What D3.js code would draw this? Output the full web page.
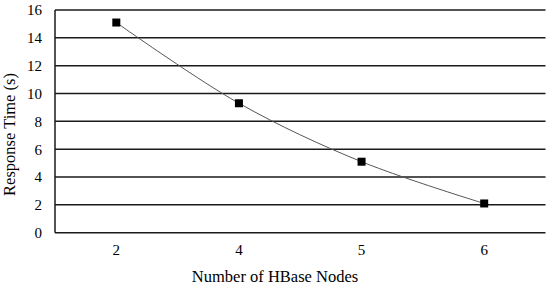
<html>
<head>
<meta charset="utf-8">
<style>
  body { margin: 0; background: #fff; }
  svg text { font-family: "Liberation Serif", "Times New Roman", Tinos, "DejaVu Serif", serif; fill: #000; }
</style>
</head>
<body>
<script src="https://cdn.jsdelivr.net/npm/d3@7"></script>
<script>
	// data
	var nodes = ["2", "4", "5", "6"];
	var responseTime = [15.1, 9.3, 5.1, 2.1];
	var yTicks = [0, 2, 4, 6, 8, 10, 12, 14, 16];

	var width = 550, height = 287;
	var margin = {top: 10, right: 4.5, bottom: 54.3, left: 55};
	var w = width - margin.left - margin.right;
	var h = height - margin.top - margin.bottom;
	var serif = '"Liberation Serif", "Times New Roman", Tinos, "DejaVu Serif", serif';

	var svg = d3.select("body").append("svg")
		.attr("width", width)
		.attr("height", height);

	var g = svg.append("g")
		.attr("transform", "translate(" + margin.left + "," + margin.top + ")");

	var x = d3.scaleBand().domain(nodes).range([0, w]);
	var y = d3.scaleLinear().domain([0, 16]).range([h, 0]);

	// horizontal grid lines
	g.selectAll(".grid")
		.data(yTicks)
		.enter().append("line")
		.attr("x1", 0).attr("x2", w)
		.attr("y1", function(d){ return y(d); })
		.attr("y2", function(d){ return y(d); })
		.attr("stroke", "#1a1a1a")
		.attr("stroke-width", 1.5);

	// left axis line
	g.append("line")
		.attr("x1", 0).attr("x2", 0)
		.attr("y1", 0).attr("y2", h)
		.attr("stroke", "#1a1a1a")
		.attr("stroke-width", 1.5);

	// y tick labels
	var yAxis = d3.axisLeft(y).tickValues(yTicks).tickSize(0).tickPadding(13);
	var ya = g.append("g").call(yAxis).attr("font-family", serif).attr("font-size", 15);
	ya.select(".domain").remove();

	// x tick labels
	var xAxis = d3.axisBottom(x).tickSize(0).tickPadding(12);
	var xa = g.append("g").attr("transform", "translate(0," + h + ")").call(xAxis)
		.attr("font-family", serif).attr("font-size", 15);
	xa.select(".domain").remove();

	// line
	var line = d3.line()
		.x(function(d, i){ return x(nodes[i]) + x.bandwidth() / 2; })
		.y(function(d){ return y(d); })
		.curve(d3.curveCatmullRom.alpha(0.5));

	g.append("path")
		.datum(responseTime)
		.attr("d", line)
		.attr("fill", "none")
		.attr("stroke", "#555")
		.attr("stroke-width", 1);

	// markers
	g.selectAll(".pt")
		.data(responseTime)
		.enter().append("rect")
		.attr("x", function(d, i){ return x(nodes[i]) + x.bandwidth() / 2 - 4; })
		.attr("y", function(d){ return y(d) - 4; })
		.attr("width", 8)
		.attr("height", 8)
		.attr("fill", "#000");

	// axis titles
	svg.append("text")
		.attr("x", 275)
		.attr("y", 282)
		.attr("text-anchor", "middle")
		.style("font-size", "16.5px")
		.text("Number of HBase Nodes");

	svg.append("text")
		.attr("transform", "translate(15,134.5) rotate(-90)")
		.attr("text-anchor", "middle")
		.style("font-size", "16.5px")
		.text("Response Time (s)");
</script>
</body>
</html>
